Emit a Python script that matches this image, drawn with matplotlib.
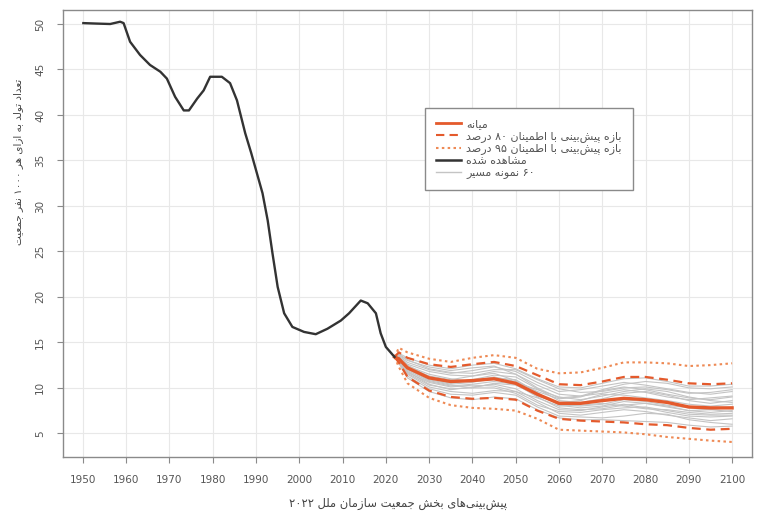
"""نرخ موالید خام — مشاهده شده و پیش‌بینی‌های سازمان ملل ۲۰۲۲"""
import numpy as np
import matplotlib
matplotlib.use("Agg")
import matplotlib.pyplot as plt
from matplotlib.lines import Line2D

plt.rcParams['font.family'] = ['DejaVu Sans']

# ── شکل‌دهی حروف فارسی (matplotlib خودش اتصال و راست‌به‌چپ ندارد) ──
FORMS = {  # isolated, final, initial, medial
    'ا': (0xFE8D, 0xFE8E), 'آ': (0xFE81, 0xFE82), 'د': (0xFEA9, 0xFEAA),
    'ذ': (0xFEAB, 0xFEAC), 'ر': (0xFEAD, 0xFEAE), 'ز': (0xFEAF, 0xFEB0),
    'ژ': (0xFB8A, 0xFB8B), 'و': (0xFEED, 0xFEEE),
    'ب': (0xFE8F, 0xFE90, 0xFE91, 0xFE92), 'پ': (0xFB56, 0xFB57, 0xFB58, 0xFB59),
    'ت': (0xFE95, 0xFE96, 0xFE97, 0xFE98), 'ث': (0xFE99, 0xFE9A, 0xFE9B, 0xFE9C),
    'ج': (0xFE9D, 0xFE9E, 0xFE9F, 0xFEA0), 'چ': (0xFB7A, 0xFB7B, 0xFB7C, 0xFB7D),
    'ح': (0xFEA1, 0xFEA2, 0xFEA3, 0xFEA4), 'خ': (0xFEA5, 0xFEA6, 0xFEA7, 0xFEA8),
    'س': (0xFEB1, 0xFEB2, 0xFEB3, 0xFEB4), 'ش': (0xFEB5, 0xFEB6, 0xFEB7, 0xFEB8),
    'ص': (0xFEB9, 0xFEBA, 0xFEBB, 0xFEBC), 'ض': (0xFEBD, 0xFEBE, 0xFEBF, 0xFEC0),
    'ط': (0xFEC1, 0xFEC2, 0xFEC3, 0xFEC4), 'ظ': (0xFEC5, 0xFEC6, 0xFEC7, 0xFEC8),
    'ع': (0xFEC9, 0xFECA, 0xFECB, 0xFECC), 'غ': (0xFECD, 0xFECE, 0xFECF, 0xFED0),
    'ف': (0xFED1, 0xFED2, 0xFED3, 0xFED4), 'ق': (0xFED5, 0xFED6, 0xFED7, 0xFED8),
    'ک': (0xFB8E, 0xFB8F, 0xFB90, 0xFB91), 'گ': (0xFB92, 0xFB93, 0xFB94, 0xFB95),
    'ل': (0xFEDD, 0xFEDE, 0xFEDF, 0xFEE0), 'م': (0xFEE1, 0xFEE2, 0xFEE3, 0xFEE4),
    'ن': (0xFEE5, 0xFEE6, 0xFEE7, 0xFEE8), 'ه': (0xFEE9, 0xFEEA, 0xFEEB, 0xFEEC),
    'ی': (0xFBFC, 0xFBFD, 0xFBFE, 0xFBFF),
}
DIGITS = set('۰۱۲۳۴۵۶۷۸۹0123456789')


def fa(s):
    out = []
    for i, c in enumerate(s):
        if c not in FORMS:
            if c != '\u200c':
                out.append(c)
            continue
        prev = s[i - 1] if i > 0 else ''
        nxt = s[i + 1] if i + 1 < len(s) else ''
        jp = prev in FORMS and len(FORMS[prev]) == 4
        jn = len(FORMS[c]) == 4 and nxt in FORMS
        f = FORMS[c]
        if jp and jn:
            g = f[3]
        elif jp:
            g = f[1]
        elif jn:
            g = f[2]
        else:
            g = f[0]
        out.append(chr(g))
    vis = ''.join(out)[::-1]
    # اعداد چپ‌به‌راست می‌مانند
    res, run = [], []
    for c in vis:
        if c in DIGITS:
            run.append(c)
        else:
            res.extend(run[::-1]); run = []
            res.append(c)
    res.extend(run[::-1])
    return ''.join(res)


# ── داده‌ها ──
obs_years = [1950.1, 1953, 1956.3, 1958.6, 1959.4, 1960.9, 1963.2, 1965.5, 1967.9,
             1969.4, 1971.3, 1973.3, 1974.5, 1976.4, 1977.9, 1979.4, 1982.1, 1984.0,
             1985.6, 1987.5, 1988.9, 1991.5, 1992.7, 1993.8, 1995.0, 1996.5, 1998.4,
             2001.1, 2003.8, 2006.5, 2009.6, 2011.5, 2014.2, 2015.8, 2017.7, 2018.8,
             2020.0, 2022.0]
obs_cbr = [50.1, 50.05, 50.0, 50.25, 50.1, 48.05, 46.6, 45.5, 44.75,
           44.0, 42.0, 40.5, 40.5, 41.8, 42.7, 44.2, 44.2, 43.5,
           41.6, 38.0, 35.8, 31.4, 28.4, 24.8, 21.1, 18.2, 16.7,
           16.15, 15.9, 16.5, 17.4, 18.2, 19.6, 19.3, 18.2, 16.0,
           14.5, 13.4]

proj_years = [2022, 2023, 2025, 2030, 2035, 2040, 2045, 2050, 2055,
              2060, 2065, 2070, 2075, 2080, 2085, 2090, 2095, 2100]
median = [13.4, 13.2, 12.2, 11.1, 10.7, 10.8, 11.0, 10.5, 9.3,
          8.3, 8.3, 8.6, 8.85, 8.7, 8.4, 7.9, 7.8, 7.8]
lo80 = [13.4, 12.8, 11.2, 9.7, 9.0, 8.8, 8.9, 8.7, 7.5,
        6.6, 6.4, 6.3, 6.2, 6.0, 5.9, 5.6, 5.4, 5.5]
hi80 = [13.4, 13.9, 13.3, 12.6, 12.3, 12.6, 12.85, 12.4, 11.4,
        10.4, 10.3, 10.7, 11.2, 11.2, 10.9, 10.5, 10.4, 10.5]
lo95 = [13.4, 12.3, 10.5, 8.9, 8.1, 7.8, 7.7, 7.5, 6.6,
        5.4, 5.3, 5.2, 5.1, 4.9, 4.6, 4.4, 4.2, 4.05]
hi95 = [13.4, 14.4, 13.9, 13.2, 12.85, 13.3, 13.6, 13.3, 12.1,
        11.6, 11.7, 12.2, 12.8, 12.8, 12.7, 12.4, 12.5, 12.7]

# چند مسیر نمونه (خوانده‌شده تقریبی از تصویر)
traj_01 = [13.4, 13.5, 12.8, 12.0, 11.6, 11.9, 12.3, 11.8, 10.6, 9.6, 9.8, 10.2, 10.6, 10.3, 9.9, 9.5, 9.3, 9.6]
traj_02 = [13.4, 13.0, 11.8, 10.4, 9.8, 10.1, 10.4, 9.9, 8.6, 7.6, 7.5, 7.9, 8.2, 7.8, 7.3, 6.9, 6.8, 6.9]
traj_03 = [13.4, 13.3, 12.4, 11.5, 11.0, 10.7, 10.9, 10.6, 9.8, 9.0, 8.7, 9.1, 9.6, 9.9, 9.6, 9.0, 8.6, 8.4]
traj_04 = [13.4, 12.9, 11.5, 10.1, 9.6, 9.4, 9.7, 9.6, 8.4, 7.2, 7.0, 7.3, 7.6, 7.4, 7.0, 6.7, 6.4, 6.6]
traj_05 = [13.4, 13.6, 13.0, 12.3, 11.9, 12.2, 12.4, 11.5, 10.0, 8.9, 9.1, 9.8, 10.4, 10.7, 10.5, 10.0, 9.9, 10.1]
traj_06 = [13.4, 13.1, 12.0, 10.9, 10.4, 10.6, 11.1, 10.9, 9.5, 8.1, 7.8, 8.0, 8.5, 8.3, 7.9, 7.5, 7.6, 7.4]
traj_07 = [13.4, 13.2, 12.3, 11.3, 10.9, 11.3, 11.6, 10.8, 9.1, 8.4, 8.6, 9.3, 9.2, 8.9, 8.6, 8.2, 8.0, 8.2]
traj_08 = [13.4, 12.8, 11.3, 9.9, 9.3, 9.2, 9.5, 9.2, 7.9, 6.9, 6.8, 6.7, 6.9, 7.2, 7.1, 6.5, 6.2, 6.0]
traj_09 = [13.4, 13.4, 12.6, 11.8, 11.4, 11.3, 11.8, 11.5, 10.3, 9.3, 9.1, 9.4, 9.8, 9.5, 9.0, 8.7, 8.9, 9.1]
traj_10 = [13.4, 13.0, 11.7, 10.6, 10.1, 10.3, 10.2, 9.6, 8.9, 8.0, 8.1, 8.3, 8.0, 7.7, 7.6, 7.3, 7.1, 7.2]
traj_11 = [13.4, 13.3, 12.5, 11.2, 10.6, 10.9, 11.4, 11.2, 9.9, 8.6, 8.4, 8.8, 9.4, 9.6, 9.2, 8.6, 8.3, 8.6]
traj_12 = [13.4, 13.1, 12.1, 10.8, 10.3, 10.0, 10.5, 10.3, 9.2, 8.2, 8.0, 8.2, 8.7, 8.5, 8.1, 7.8, 7.6, 7.9]
traj_13 = [13.4, 13.7, 13.1, 12.1, 11.7, 11.6, 12.0, 12.0, 10.9, 9.9, 9.5, 9.6, 10.0, 10.1, 9.8, 9.4, 9.5, 9.8]
traj_14 = [13.4, 12.9, 11.6, 10.3, 9.9, 10.0, 10.0, 9.4, 8.1, 7.4, 7.3, 7.6, 7.8, 7.9, 7.5, 7.1, 7.0, 7.0]
traj_15 = [13.4, 13.8, 13.3, 12.5, 12.1, 12.5, 12.7, 12.1, 11.0, 10.1, 10.0, 10.5, 11.0, 11.1, 10.7, 10.2, 10.2, 10.4]
traj_16 = [13.4, 12.7, 11.1, 9.6, 8.9, 8.7, 9.0, 8.8, 7.6, 6.7, 6.5, 6.5, 6.4, 6.3, 6.2, 5.9, 5.7, 5.8]
traj_17 = [13.4, 13.2, 12.2, 11.0, 10.5, 10.8, 11.2, 10.7, 9.6, 8.8, 9.0, 9.7, 10.1, 9.8, 9.3, 8.9, 8.7, 9.0]
traj_18 = [13.4, 13.0, 11.9, 10.7, 10.2, 10.4, 10.7, 10.4, 9.0, 7.8, 7.6, 7.7, 8.1, 8.3, 8.0, 7.5, 7.3, 7.5]
trajectories = [traj_01, traj_02, traj_03, traj_04, traj_05, traj_06, traj_07, traj_08, traj_09,
                traj_10, traj_11, traj_12, traj_13, traj_14, traj_15, traj_16, traj_17, traj_18]

x_ticks = list(range(1950, 2101, 10))
y_ticks = [5, 10, 15, 20, 25, 30, 35, 40, 45, 50]

lbl_y = "تعداد تولد به ازای هر ۱۰۰۰ نفر جمعیت"
lbl_x = "پیش‌بینی‌های بخش جمعیت سازمان ملل ۲۰۲۲"
leg_labels = ["میانه", "بازه پیش‌بینی با اطمینان ۸۰ درصد", "بازه پیش‌بینی با اطمینان ۹۵ درصد",
              "مشاهده شده", "۶۰ نمونه مسیر"]

RED = "#E45A2C"
ORANGE = "#EE8A55"
GREY = "#C4C4C4"
AXC = "#8a8a8a"

# ── رسم ──
fig = plt.figure(figsize=(7.57, 5.18), dpi=100)
ax = fig.add_axes([63 / 757, 1 - 457 / 518, (752 - 63) / 757, (457 - 10) / 518])

for t in trajectories:
    ax.plot(proj_years, t, color=GREY, lw=0.8, zorder=2)
ax.plot(proj_years, lo95, color=ORANGE, lw=1.5, ls=(0, (1.2, 1.6)), zorder=3)
ax.plot(proj_years, hi95, color=ORANGE, lw=1.5, ls=(0, (1.2, 1.6)), zorder=3)
ax.plot(proj_years, lo80, color=RED, lw=1.6, ls=(0, (4, 2.5)), zorder=3)
ax.plot(proj_years, hi80, color=RED, lw=1.6, ls=(0, (4, 2.5)), zorder=3)
ax.plot(proj_years, median, color=RED, lw=2.4, zorder=4)
ax.plot(obs_years, obs_cbr, color="#333333", lw=1.7, zorder=5)

ax.set_xlim(1945.4, 2104.6)
ax.set_ylim(2.4, 51.54)
ax.set_xticks(x_ticks)
ax.set_yticks(y_ticks)
ax.grid(True, color="#e8e8e8", lw=0.8)
ax.set_axisbelow(True)
for s in ax.spines.values():
    s.set_color(AXC)
    s.set_linewidth(1.0)
ax.tick_params(colors=AXC, labelcolor="#555555", labelsize=7.5, length=4, direction="out")
ax.tick_params(axis="x", pad=9)
ax.tick_params(axis="y", pad=9)
for lab in ax.get_yticklabels():
    lab.set_rotation(90)
    lab.set_va("center")

fig.text(18 / 757, 1 - 162 / 518, fa(lbl_y), rotation=90, ha="center", va="center",
         fontsize=7.5, color="#444444")
fig.text(398 / 757, 1 - 503 / 518, fa(lbl_x), ha="center", va="center",
         fontsize=8.3, color="#444444")

handles = [Line2D([], [], color=RED, lw=2.0),
           Line2D([], [], color=RED, lw=1.5, ls=(0, (4, 2.5))),
           Line2D([], [], color=ORANGE, lw=1.5, ls=(0, (1.2, 1.6))),
           Line2D([], [], color="#333333", lw=1.8),
           Line2D([], [], color=GREY, lw=1.0)]
leg = fig.legend(handles, [fa(l) for l in leg_labels], loc="upper left",
                 bbox_to_anchor=(425 / 757, 1 - 108 / 518), borderaxespad=0, fontsize=8,
                 frameon=True, fancybox=False, edgecolor=AXC, framealpha=1,
                 handlelength=2.2, labelspacing=0.15, borderpad=1.0, handletextpad=0.5)
leg.get_frame().set_linewidth(1.0)
for t in leg.get_texts():
    t.set_color("#555555")

fig.savefig("out.png", dpi=100)
